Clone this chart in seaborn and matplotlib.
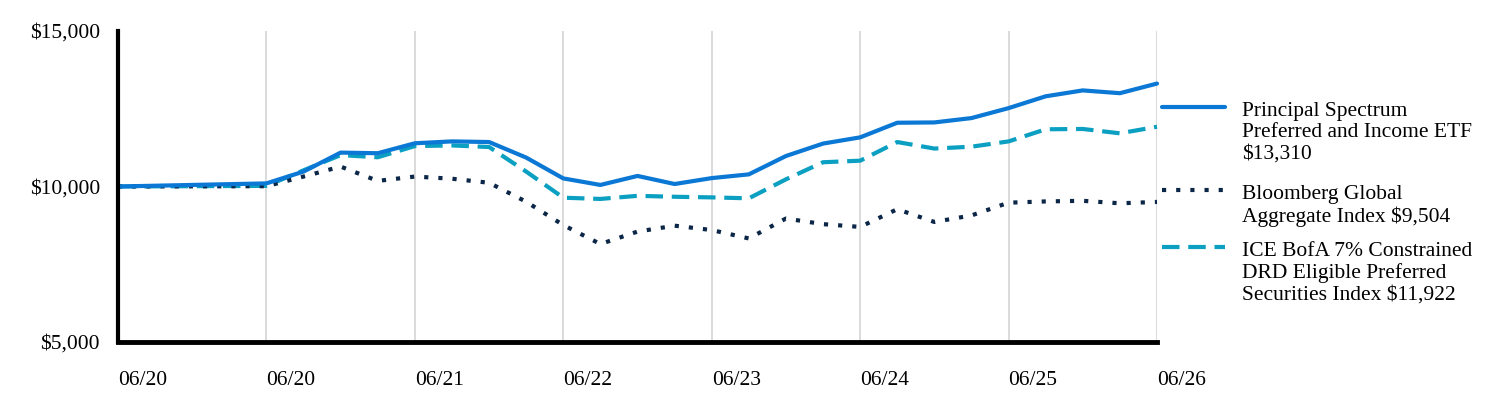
import numpy as np
import pandas as pd
import matplotlib
matplotlib.use("Agg")
import matplotlib.pyplot as plt
from matplotlib.lines import Line2D
import seaborn as sns

# ── Data (quarter index from inception) ─────────────────────────────────────
quarters = [0, 4, 5, 6, 7, 8, 9, 10, 11, 12, 13, 14, 15, 16, 17, 18, 19, 20,
            21, 22, 23, 24, 25, 26, 27, 28]

principal = [10000, 10100, 10480, 11090, 11070, 11390, 11450, 11430, 10930,
             10260, 10050, 10340, 10080, 10270, 10390, 10980, 11380, 11580,
             12050, 12060, 12200, 12520, 12900, 13090, 13000, 13310]

bloomberg = [10000, 10010, 10320, 10640, 10180, 10320, 10250, 10120, 9510,
             8760, 8150, 8550, 8740, 8600, 8330, 8970, 8790, 8700,
             9270, 8860, 9070, 9480, 9520, 9540, 9460, 9504]

ice_bofa = [10000, 10020, 10520, 11010, 10940, 11300, 11320, 11270, 10480,
            9640, 9600, 9700, 9670, 9650, 9620, 10230, 10780, 10830,
            11430, 11220, 11280, 11450, 11840, 11850, 11710, 11922]

tick_pos = [0, 4, 8, 12, 16, 20, 24, 28]
tick_labels = ["06/20", "06/20", "06/21", "06/22", "06/23", "06/24", "06/25", "06/26"]

labels = [
    "Principal Spectrum\nPreferred and Income ETF\n$13,310",
    "Bloomberg Global\nAggregate Index $9,504",
    "ICE BofA 7% Constrained\nDRD Eligible Preferred\nSecurities Index $11,922",
]

# ── Style ───────────────────────────────────────────────────────────────────
sns.set_style("white")
plt.rcParams["font.family"] = ["Liberation Serif", "DejaVu Serif"]
FS = 15.5

C_SOLID = "#0A78D4"
C_DOT = "#0B2647"
C_DASH = "#0BA0C2"
LW = 3.0
DOT = (0, (1, 2.4))
DASH = (0, (4.2, 2.1))

W, H, DPI = 1512, 408, 100
fig = plt.figure(figsize=(W / DPI, H / DPI), dpi=DPI)
ax = fig.add_axes([118 / W, 1 - 342 / H, (1157 - 118) / W, (342 - 31) / H])

styles = [
    (ice_bofa, C_DASH, DASH),
    (bloomberg, C_DOT, DOT),
    (principal, C_SOLID, "-"),
]
for vals, col, ls in styles:
    df = pd.DataFrame({"q": quarters, "v": vals})
    sns.lineplot(data=df, x="q", y="v", ax=ax, color=col, linestyle=ls,
                 linewidth=LW, clip_on=False, zorder=3)

ax.set_xlim(0, 28)
ax.set_ylim(5000, 15000)
ax.set_xticks(tick_pos)
ax.set_xticklabels(tick_labels, ha="left")
ax.set_yticks([5000, 10000, 15000])
ax.set_yticklabels(["$5,000", "$10,000", "$15,000"])
ax.tick_params(axis="x", length=0, pad=21, labelsize=FS, labelcolor="black")
ax.tick_params(axis="y", length=0, pad=13, labelsize=FS, labelcolor="black")
ax.set_xlabel("")
ax.set_ylabel("")
ax.grid(axis="x", color="#DADADA", linewidth=1.4, zorder=0)
ax.grid(axis="y", visible=False)
for s in ["top", "right"]:
    ax.spines[s].set_visible(False)
ax.spines["left"].set_linewidth(3)
ax.spines["bottom"].set_linewidth(3.5)
ax.spines["left"].set_color("black")
ax.spines["bottom"].set_color("black")
ax.spines["left"].set_zorder(4)
ax.spines["bottom"].set_zorder(4)

# ── Legend (manual, handle on first text line) ──────────────────────────────
leg_items = [
    (labels[0], C_SOLID, "-", 107),
    (labels[1], C_DOT, DOT, 190),
    (labels[2], C_DASH, DASH, 247),
]
for text, col, ls, yy in leg_items:
    fig.add_artist(Line2D([1162 / W, 1225 / W], [1 - yy / H, 1 - yy / H],
                          color=col, linestyle=ls, linewidth=LW,
                          transform=fig.transFigure))
    fig.text(1242 / W, 1 - (yy - 5) / H, text, fontsize=FS, va="top",
             ha="left", linespacing=1.17, color="black")

fig.savefig("out.png", dpi=DPI)
